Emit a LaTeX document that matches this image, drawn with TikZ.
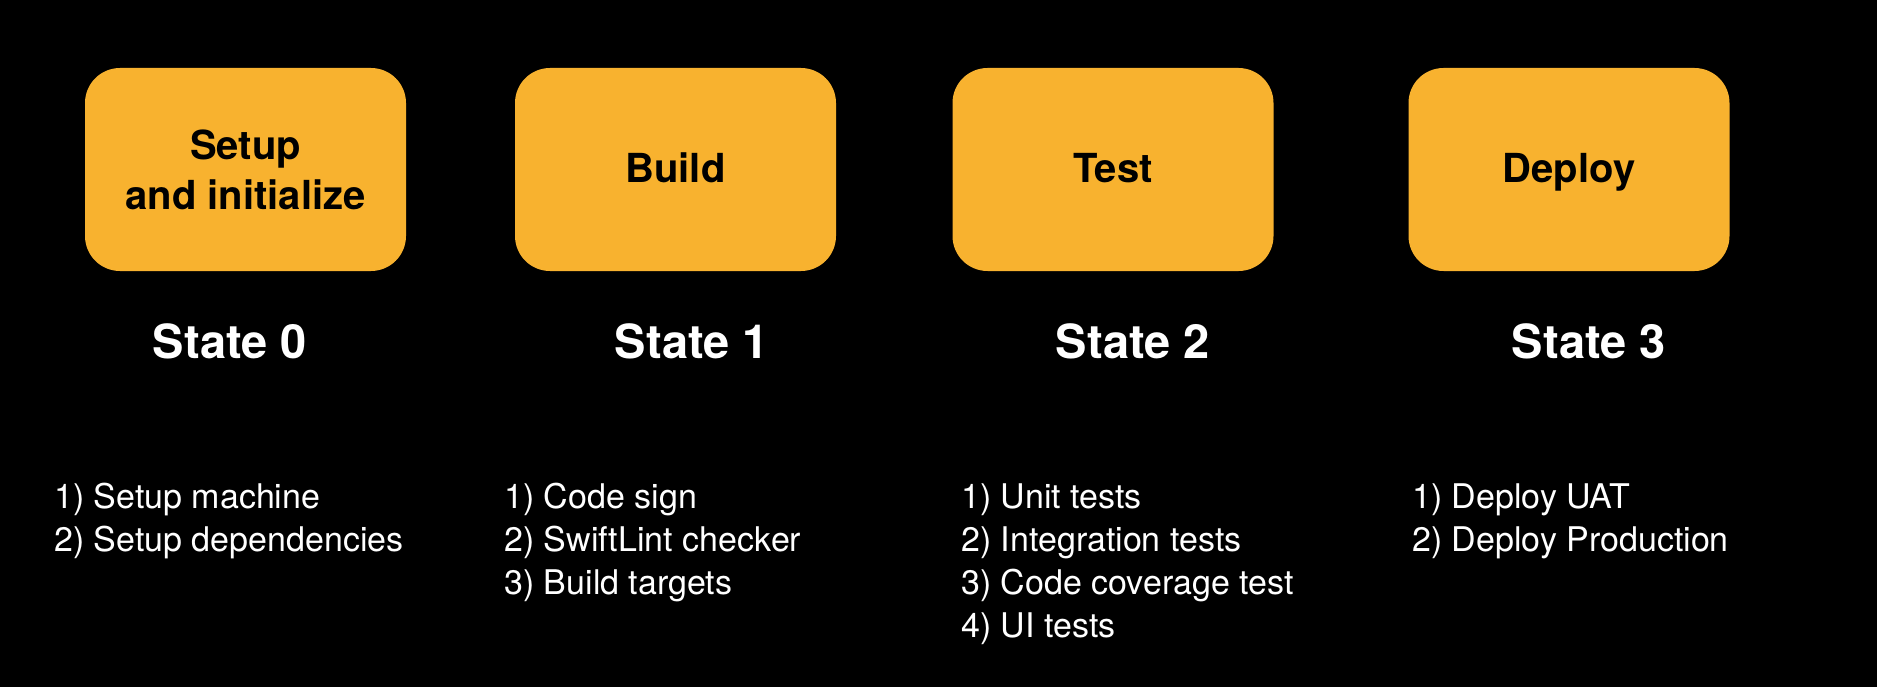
\documentclass[tikz,border=0pt]{standalone}
\usepackage{fontspec}
\setmainfont{TeX Gyre Heros}
\begin{document}
\begin{tikzpicture}[x=1pt,y=-1pt,
  stagebox/.style={fill=boxcol, draw=none, rounded corners=35pt, minimum width=321pt, minimum height=203pt, inner sep=0pt, align=center, text=black, text depth=0pt, text height=27pt, font=\fontsize{40}{50}\selectfont\bfseries},
  statelbl/.style={anchor=base, inner sep=0pt, text=white, font=\fontsize{47}{56}\selectfont\bfseries},
  steplist/.style={anchor=base west, inner sep=0pt, align=left, text=white, font=\fontsize{34}{43.3}\selectfont}]
\definecolor{boxcol}{HTML}{F8B22F}
\fill[black] (0,0) rectangle (1877,687);
\useasboundingbox (0,0) rectangle (1877,687);
\node[stagebox, text height=81pt] (b0) at (245.5,169.5) {Setup\\and initialize};
\node[stagebox] (b1) at (675.5,169.5) {Build};
\node[stagebox] (b2) at (1113,169.5) {Test};
\node[stagebox] (b3) at (1569,169.5) {Deploy};
\node[statelbl] (s0) at (230,358) {State 0};
\node[statelbl] (s1) at (692,358) {State 1};
\node[statelbl] (s2) at (1133,358) {State 2};
\node[statelbl] (s3) at (1589,358) {State 3};
\node[steplist] (l0) at (54,551.3) {1) Setup machine\\2) Setup dependencies};
\node[steplist] (l1) at (504,594.6) {1) Code sign\\2) SwiftLint checker\\3) Build targets};
\node[steplist] (l2) at (961,637.9) {1) Unit tests\\2) Integration tests\\3) Code coverage test\\4) UI tests};
\node[steplist] (l3) at (1412,551.3) {1) Deploy UAT\\2) Deploy Production};
\end{tikzpicture}
\end{document}
